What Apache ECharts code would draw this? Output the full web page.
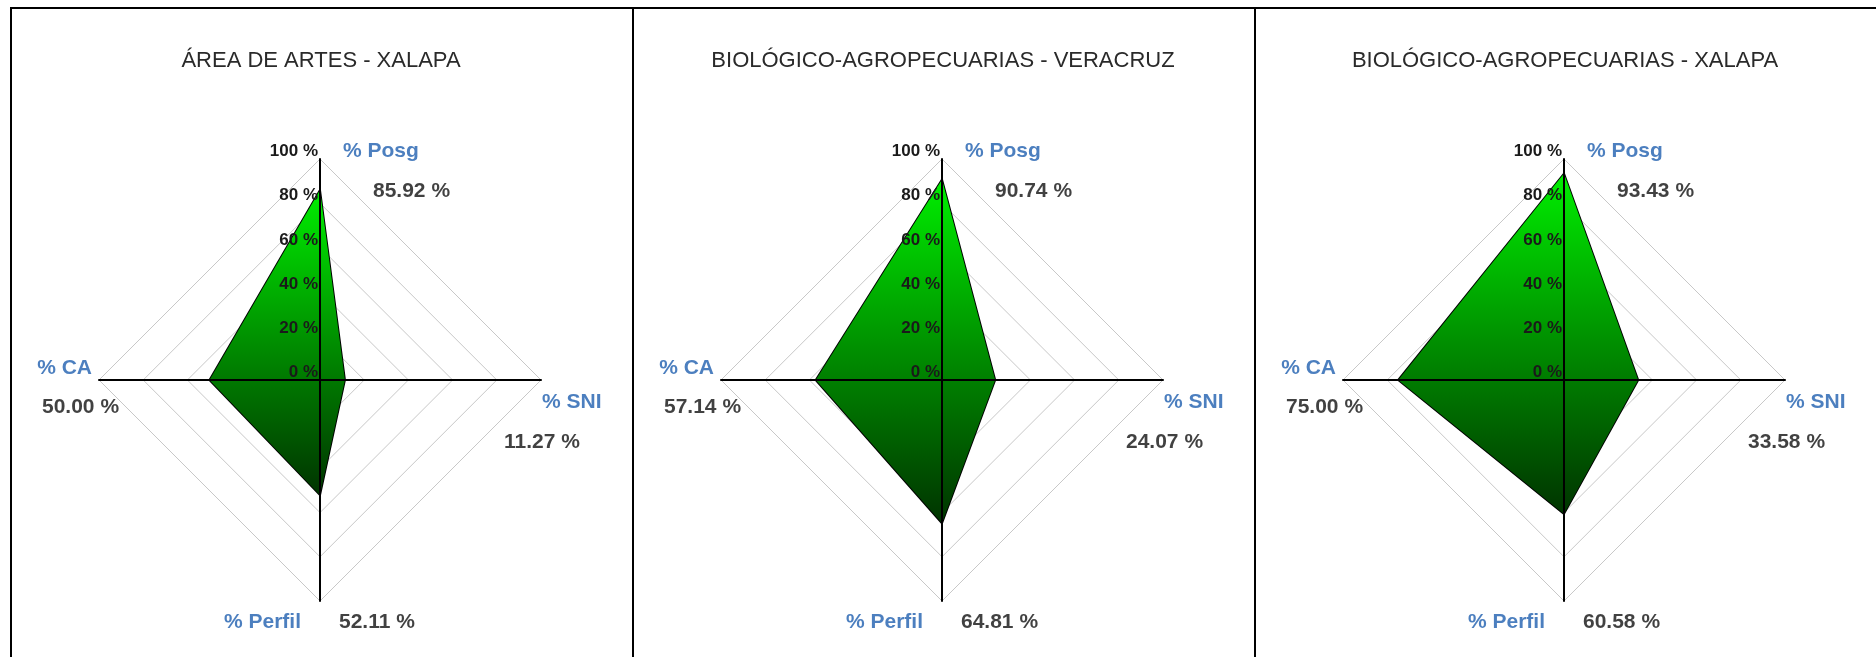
<!DOCTYPE html>
<html><head><meta charset="utf-8">
<script src="https://cdn.jsdelivr.net/npm/echarts@6/dist/echarts.min.js"></script>
<style>html,body{margin:0;padding:0;background:#fff}#c{width:1876px;height:657px}</style>
</head><body><div id="c"></div>
<script>
// ---- data ----
const categories = ['% Posg', '% SNI', '% Perfil', '% CA']; // clockwise from top
const panelTitles = ['ÁREA DE ARTES - XALAPA', 'BIOLÓGICO-AGROPECUARIAS - VERACRUZ', 'BIOLÓGICO-AGROPECUARIAS - XALAPA'];
const valuesArtesXalapa = [85.92, 11.27, 52.11, 50.00];
const valuesBioVeracruz = [90.74, 24.07, 64.81, 57.14];
const valuesBioXalapa = [93.43, 33.58, 60.58, 75.00];
const panelValues = [valuesArtesXalapa, valuesBioVeracruz, valuesBioXalapa];
const axisMin = 0, axisMax = 100, tickCount = 5;

// ---- layout / style ----
const PANEL_W = 622, PANEL_X0 = 10, CY = 380, R = 221;
const catAngles = [0, 90, 180, 270];          // polar angle (clockwise from top)
const radarOrder = [0, 3, 2, 1];              // radar goes counter-clockwise
const nameLayout = [
  {align: 'left', offset: [23, -8]},
  {align: 'left', offset: [1, 22]},
  {align: 'right', offset: [-19, 21]},
  {align: 'right', offset: [-7, -12]}
];
const valueLayout = [
  {align: 'left', offset: [53, 32]},
  {align: 'left', offset: [-37, 62]},
  {align: 'left', offset: [19, 21]},
  {align: 'left', offset: [-57, 27]}
];
const FONT = 'Liberation Sans, Arial, sans-serif';

const chart = echarts.init(document.getElementById('c'));
const radars = [], polars = [], angleAxes = [], radiusAxes = [], series = [], titles = [];

function indicators(withLabel) {
  return radarOrder.map((ci, k) => ({
    name: categories[ci], min: axisMin, max: axisMax,
    axisLabel: {show: withLabel && k === 0}
  }));
}

panelValues.forEach((vals, p) => {
  const left = PANEL_X0 + p * PANEL_W;
  const cx = left + 310;
  titles.push({
    text: panelTitles[p], left: left + 311, top: 50, textAlign: 'center', padding: 0,
    textStyle: {fontFamily: FONT, fontSize: 22, fontWeight: 'normal', color: '#2a2a2a'}
  });
  // background radar: split rings only (below the area)
  radars.push({
    center: [cx, CY], radius: R, startAngle: 90, splitNumber: tickCount, shape: 'polygon', z: 0,
    indicator: indicators(false),
    axisName: {show: false},
    axisLine: {show: false},
    splitLine: {lineStyle: {color: '#c8c8c8', width: 1}},
    splitArea: {show: false},
    axisTick: {show: false},
    axisLabel: {show: false}
  });
  // foreground radar: axis lines + tick labels (above the area)
  radars.push({
    center: [cx, CY], radius: R, startAngle: 90, splitNumber: tickCount, shape: 'polygon', z: 5,
    indicator: indicators(true),
    axisName: {show: false},
    axisLine: {lineStyle: {color: '#000', width: 2}},
    splitLine: {show: false},
    splitArea: {show: false},
    axisTick: {show: false},
    axisLabel: {show: false, formatter: '{value} %', color: '#1a1a1a', fontSize: 17, fontWeight: 'bold',
      fontFamily: FONT, margin: 2, verticalAlign: 'bottom', lineHeight: 15}
  });
  polars.push({center: [cx, CY], radius: R});
  angleAxes.push({polarIndex: p, type: 'value', min: 0, max: 360, startAngle: 90, clockwise: true, show: false});
  radiusAxes.push({polarIndex: p, type: 'value', min: axisMin, max: axisMax, show: false});

  series.push({
    type: 'radar', radarIndex: p * 2, symbol: 'none', silent: true, z: 2,
    lineStyle: {color: '#000', width: 2},
    areaStyle: {
      opacity: 1,
      color: new echarts.graphic.LinearGradient(0, 0, 0, 1, [
        {offset: 0, color: '#00ee00'}, {offset: 0.5, color: '#008e00'}, {offset: 1, color: '#003400'}
      ])
    },
    data: [{value: radarOrder.map(ci => vals[ci])}]
  });
  // category names at axis ends
  series.push({
    type: 'scatter', coordinateSystem: 'polar', polarIndex: p, symbolSize: 1, silent: true,
    itemStyle: {color: 'transparent'},
    data: categories.map((c, i) => ({
      value: [axisMax, catAngles[i]],
      label: {show: true, position: 'inside', formatter: c, align: nameLayout[i].align,
        verticalAlign: 'middle', offset: nameLayout[i].offset,
        color: '#1f5faf', fontFamily: FONT, fontSize: 21, fontWeight: 'bold'}
    }))
  });
  // value labels
  series.push({
    type: 'scatter', coordinateSystem: 'polar', polarIndex: p, symbolSize: 1, silent: true,
    itemStyle: {color: 'transparent'},
    data: categories.map((c, i) => ({
      value: [axisMax, catAngles[i]],
      label: {show: true, position: 'inside', formatter: vals[i].toFixed(2) + ' %', align: valueLayout[i].align,
        verticalAlign: 'middle', offset: valueLayout[i].offset,
        color: '#111', fontFamily: FONT, fontSize: 21, fontWeight: 'bold'}
    }))
  });
});

const borders = [
  {type: 'rect', shape: {x: 10, y: 7, width: 1866, height: 2}, style: {fill: '#000'}},
  {type: 'rect', shape: {x: 10, y: 7, width: 2, height: 650}, style: {fill: '#000'}},
  {type: 'rect', shape: {x: 632, y: 7, width: 2, height: 650}, style: {fill: '#000'}},
  {type: 'rect', shape: {x: 1254, y: 7, width: 2, height: 650}, style: {fill: '#000'}}
];

chart.setOption({
  animation: false,
  backgroundColor: '#fff',
  title: titles,
  radar: radars,
  polar: polars,
  angleAxis: angleAxes,
  radiusAxis: radiusAxes,
  graphic: borders,
  series: series
});
</script></body></html>
